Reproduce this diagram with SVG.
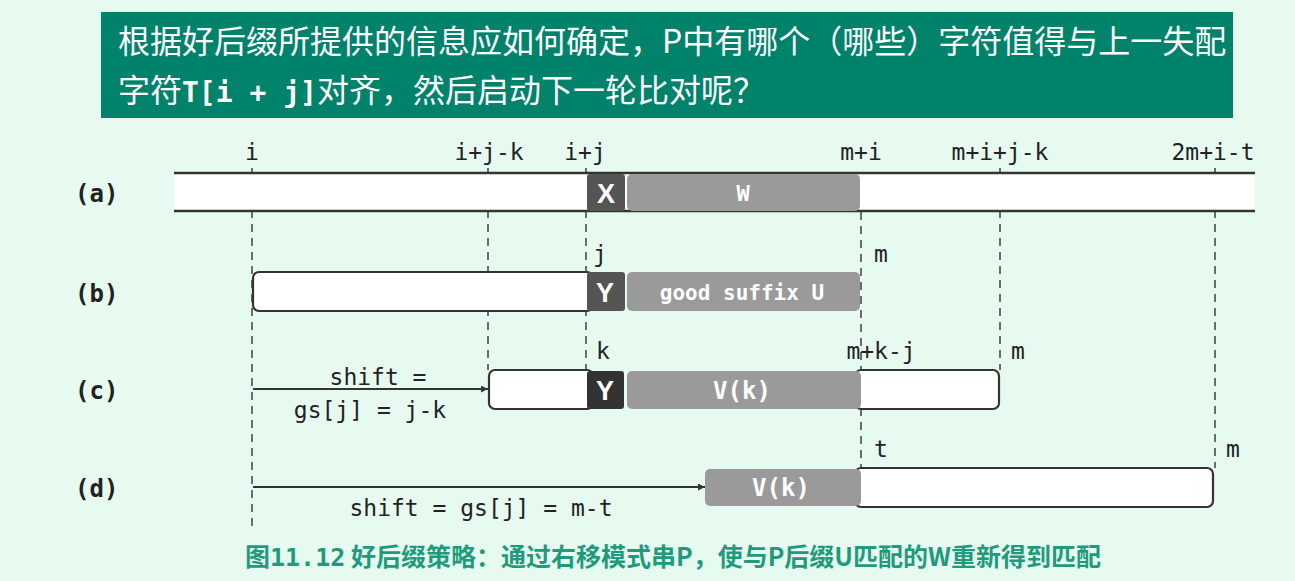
<svg xmlns="http://www.w3.org/2000/svg" width="1295" height="581" viewBox="0 0 1295 581">
<defs>
<style>
.hdr{font-family:"Noto Sans CJK SC","Noto Sans",sans-serif;font-size:32px;fill:#ffffff}
.mono{font-family:"DejaVu Sans Mono","Liberation Mono",monospace}
.lbl{font-family:"DejaVu Sans Mono","Liberation Mono",monospace;font-size:23px;fill:#222}
.row{font-family:"DejaVu Sans Mono","Liberation Mono",monospace;font-size:24px;font-weight:bold;fill:#222}
.dash{stroke:#333;stroke-width:1.4;stroke-dasharray:8 6;fill:none}
.wbox{fill:#ffffff;stroke:#333;stroke-width:2.2}
.gbox{fill:#9a9a9a}
.dbox{fill:#555555}
.kbox{fill:#333333}
.intxt{font-family:"DejaVu Sans Mono","Liberation Mono",monospace;font-weight:bold;fill:#ffffff}
.ch{font-family:"Liberation Sans",Arial,sans-serif;font-weight:bold;font-size:27px;fill:#ffffff}
.cap{font-family:"Noto Sans CJK SC","Noto Sans",sans-serif;font-weight:bold;font-size:25px;fill:#1f9a7c}
.arr{stroke:#333;stroke-width:2;fill:none}
</style>
<marker id="ah" viewBox="0 0 10 10" refX="10" refY="5" markerWidth="7" markerHeight="7" markerUnits="userSpaceOnUse" orient="auto">
<path d="M0,0 L10,5 L0,10 z" fill="#333"/>
</marker>
</defs>
<rect x="0" y="0" width="1295" height="581" fill="#e6faf0"/>

<g id="header">
<rect x="101" y="12" width="1132" height="106" fill="#00826b"/>
<text class="hdr" x="118" y="53">根据好后缀所提供的信息应如何确定，P中有哪个（哪些）字符值得与上一失配</text>
<text class="hdr" x="118" y="102">字符<tspan class="mono" font-weight="bold" font-size="28">T[i + j]</tspan>对齐，然后启动下一轮比对呢？</text>
</g>

<g id="row-labels">
<text class="row" x="75" y="202">(a)</text>
<text class="row" x="75" y="302">(b)</text>
<text class="row" x="75" y="399">(c)</text>
<text class="row" x="75" y="497">(d)</text>
</g>

<g id="connectors">
<line class="dash" x1="252" y1="168" x2="252" y2="526"/>
<line class="dash" x1="488" y1="168" x2="488" y2="370"/>
<line class="dash" x1="586" y1="168" x2="586" y2="372"/>
<line class="dash" x1="861" y1="212" x2="861" y2="505"/>
<line class="dash" x1="1000" y1="168" x2="1000" y2="370"/>
<line class="dash" x1="1215" y1="168" x2="1215" y2="468"/>
<line class="arr" x1="253" y1="389" x2="488" y2="389" marker-end="url(#ah)"/>
<line class="arr" x1="253" y1="487" x2="705" y2="487" marker-end="url(#ah)"/>
</g>

<g id="text-T">
<rect x="174" y="173" width="1081" height="38" fill="#ffffff"/>
<line x1="174" y1="173" x2="1255" y2="173" stroke="#333" stroke-width="2.5"/>
<line x1="174" y1="211" x2="1255" y2="211" stroke="#333" stroke-width="2.5"/>
<rect class="dbox" x="587" y="174" width="38" height="37" rx="3"/>
<text class="ch" x="606" y="203" text-anchor="middle">X</text>
<rect class="gbox" x="627" y="174" width="233" height="37" rx="5"/>
<text class="intxt" x="743" y="201" font-size="22" text-anchor="middle">W</text>
<text class="lbl" x="252" y="160" text-anchor="middle">i</text>
<text class="lbl" x="489" y="160" text-anchor="middle">i+j-k</text>
<text class="lbl" x="585" y="160" text-anchor="middle">i+j</text>
<text class="lbl" x="861" y="160" text-anchor="middle">m+i</text>
<text class="lbl" x="1000" y="160" text-anchor="middle">m+i+j-k</text>
<text class="lbl" x="1213" y="160" text-anchor="middle">2m+i-t</text>
</g>

<g id="pattern-b">
<rect class="wbox" x="253" y="272" width="340" height="39" rx="6"/>
<rect class="dbox" x="587" y="272" width="38" height="39" rx="3"/>
<text class="ch" x="605" y="302" text-anchor="middle">Y</text>
<rect class="gbox" x="627" y="272" width="233" height="39" rx="5"/>
<text class="intxt" x="742" y="300" font-size="21" text-anchor="middle">good suffix U</text>
<text class="lbl" x="600" y="262" text-anchor="middle">j</text>
<text class="lbl" x="881" y="262" text-anchor="middle">m</text>
</g>

<g id="pattern-c">
<rect class="wbox" x="489" y="370" width="104" height="39" rx="6"/>
<rect class="wbox" x="855" y="370" width="144" height="39" rx="6"/>
<rect class="kbox" x="587" y="371" width="37" height="38" rx="3"/>
<text class="ch" x="605" y="400" text-anchor="middle">Y</text>
<rect class="gbox" x="627" y="371" width="234" height="38" rx="5"/>
<text class="intxt" x="742" y="399" font-size="24" text-anchor="middle">V(k)</text>
<text class="lbl" x="603" y="359" text-anchor="middle">k</text>
<text class="lbl" x="881" y="359" text-anchor="middle">m+k-j</text>
<text class="lbl" x="1018" y="359" text-anchor="middle">m</text>
<text class="lbl" x="378" y="385" text-anchor="middle">shift =</text>
<text class="lbl" x="370" y="418" text-anchor="middle">gs[j] = j-k</text>
</g>

<g id="pattern-d">
<rect class="wbox" x="855" y="468" width="358" height="39" rx="6"/>
<rect class="gbox" x="705" y="469" width="156" height="37" rx="5"/>
<text class="intxt" x="781" y="496" font-size="24" text-anchor="middle">V(k)</text>
<text class="lbl" x="881" y="457" text-anchor="middle">t</text>
<text class="lbl" x="1233" y="457" text-anchor="middle">m</text>
<text class="lbl" x="481" y="516" text-anchor="middle">shift = gs[j] = m-t</text>
</g>

<g id="caption">
<text class="cap" x="245" y="566">图<tspan class="mono">11.12</tspan> 好后缀策略：通过右移模式串P，使与P后缀U匹配的W重新得到匹配</text>
</g>
</svg>
